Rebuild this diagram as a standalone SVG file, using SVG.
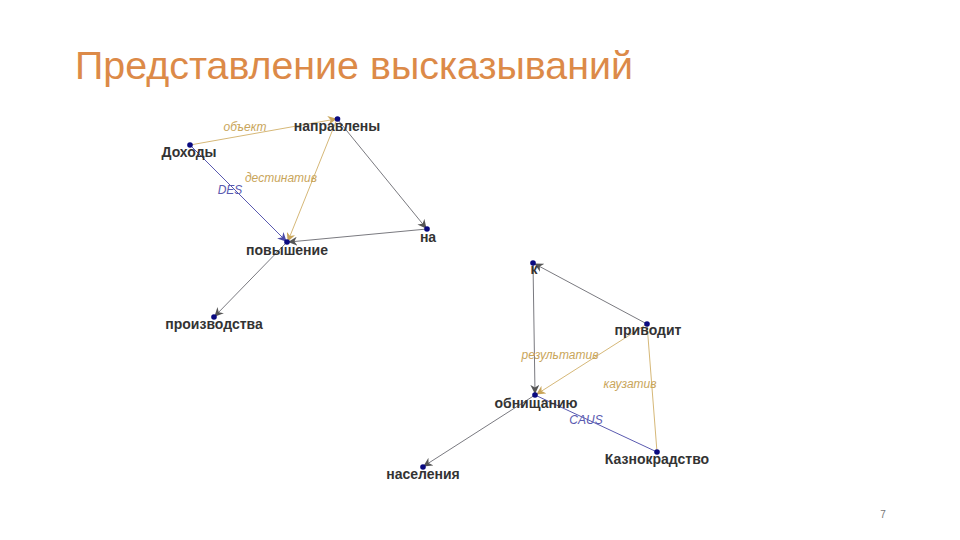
<svg xmlns="http://www.w3.org/2000/svg" width="960" height="540" viewBox="0 0 960 540">
<defs>
<marker id="aG" viewBox="0 0 10 10" refX="9" refY="5" markerWidth="9" markerHeight="9" markerUnits="userSpaceOnUse" orient="auto"><path d="M0,0 L10,5 L0,10 L3,5 z" fill="#555"/></marker>
<marker id="aT" viewBox="0 0 10 10" refX="9" refY="5" markerWidth="9" markerHeight="9" markerUnits="userSpaceOnUse" orient="auto"><path d="M0,0 L10,5 L0,10 L3,5 z" fill="#c9a55a"/></marker>
<marker id="aB" viewBox="0 0 10 10" refX="9" refY="5" markerWidth="9" markerHeight="9" markerUnits="userSpaceOnUse" orient="auto"><path d="M0,0 L10,5 L0,10 L3,5 z" fill="#4a4aa8"/></marker>
</defs>
<style>
.g{stroke:#7a7a80;stroke-width:1;fill:none}
.t{stroke:#d6b878;stroke-width:1;fill:none}
.b{stroke:#5a5ab0;stroke-width:1;fill:none}
.lbl{font-family:"Liberation Sans",Arial,sans-serif;font-weight:bold;font-size:14px;fill:#333}
.el{font-family:"Liberation Sans",Arial,sans-serif;font-style:italic;font-size:12px}
.et{fill:#c9a55a}
.eb{fill:#5a5ab0}
.dot{fill:#0a0a80}
</style>
<rect width="960" height="540" fill="#fff"/>
<text x="75" y="79" font-family="'Liberation Sans',Arial,sans-serif" font-size="39" fill="#dc8a48" textLength="558" lengthAdjust="spacingAndGlyphs">Представление высказываний</text>
<text x="883" y="518" font-family="'Liberation Sans',Arial,sans-serif" font-size="10" fill="#777" text-anchor="middle">7</text>
<g id="connectors">
<line class="t" x1="190" y1="145" x2="336" y2="119" marker-end="url(#aT)"/>
<line class="b" x1="190" y1="145" x2="286" y2="241" marker-end="url(#aB)"/>
<line class="t" x1="337" y1="119" x2="288" y2="241" marker-end="url(#aT)"/>
<line class="g" x1="338" y1="120" x2="426" y2="228" marker-end="url(#aG)"/>
<line class="g" x1="427" y1="229" x2="289" y2="242" marker-end="url(#aG)"/>
<line class="g" x1="287" y1="242" x2="215" y2="316" marker-end="url(#aG)"/>
<line class="g" x1="647" y1="324" x2="535" y2="264" marker-end="url(#aG)"/>
<line class="g" x1="533" y1="263" x2="535" y2="393" marker-end="url(#aG)"/>
<line class="t" x1="647" y1="324" x2="537" y2="394" marker-end="url(#aT)"/>
<line class="t" x1="647" y1="324" x2="657" y2="452"/>
<line class="b" x1="535" y1="395" x2="657" y2="452"/>
<line class="g" x1="535" y1="395" x2="424" y2="466" marker-end="url(#aG)"/>
<text class="el et" x="245" y="131" text-anchor="middle">объект</text>
<text class="el eb" x="230" y="194" text-anchor="middle">DES</text>
<text class="el et" x="281" y="182" text-anchor="middle">дестинатив</text>
<text class="el et" x="560" y="359" text-anchor="middle">результатив</text>
<text class="el et" x="630" y="388" text-anchor="middle">каузатив</text>
<text class="el eb" x="586" y="424" text-anchor="middle">CAUS</text>
</g>
<g id="n-dohody"><circle class="dot" cx="190" cy="145" r="2.8"/><text class="lbl" x="189" y="157" text-anchor="middle">Доходы</text></g>
<g id="n-napravleny"><circle class="dot" cx="337.5" cy="119" r="2.8"/><text class="lbl" x="337" y="131" text-anchor="middle">направлены</text></g>
<g id="n-povyshenie"><circle class="dot" cx="287" cy="242" r="2.8"/><text class="lbl" x="287" y="255" text-anchor="middle">повышение</text></g>
<g id="n-na"><circle class="dot" cx="427" cy="229" r="2.8"/><text class="lbl" x="428" y="242" text-anchor="middle">на</text></g>
<g id="n-proizvodstva"><circle class="dot" cx="214" cy="317" r="2.8"/><text class="lbl" x="214" y="329" text-anchor="middle">производства</text></g>
<g id="n-k"><circle class="dot" cx="533" cy="263" r="2.8"/><text class="lbl" x="534" y="274" text-anchor="middle">к</text></g>
<g id="n-privodit"><circle class="dot" cx="647" cy="324" r="2.8"/><text class="lbl" x="648" y="335" text-anchor="middle">приводит</text></g>
<g id="n-obnishaniyu"><circle class="dot" cx="535" cy="395" r="2.8"/><text class="lbl" x="536" y="408" text-anchor="middle">обнищанию</text></g>
<g id="n-kaznokradstvo"><circle class="dot" cx="657" cy="452" r="2.8"/><text class="lbl" x="657" y="464" text-anchor="middle">Казнокрадство</text></g>
<g id="n-naseleniya"><circle class="dot" cx="423" cy="467" r="2.8"/><text class="lbl" x="423" y="479" text-anchor="middle">населения</text></g>
</svg>
